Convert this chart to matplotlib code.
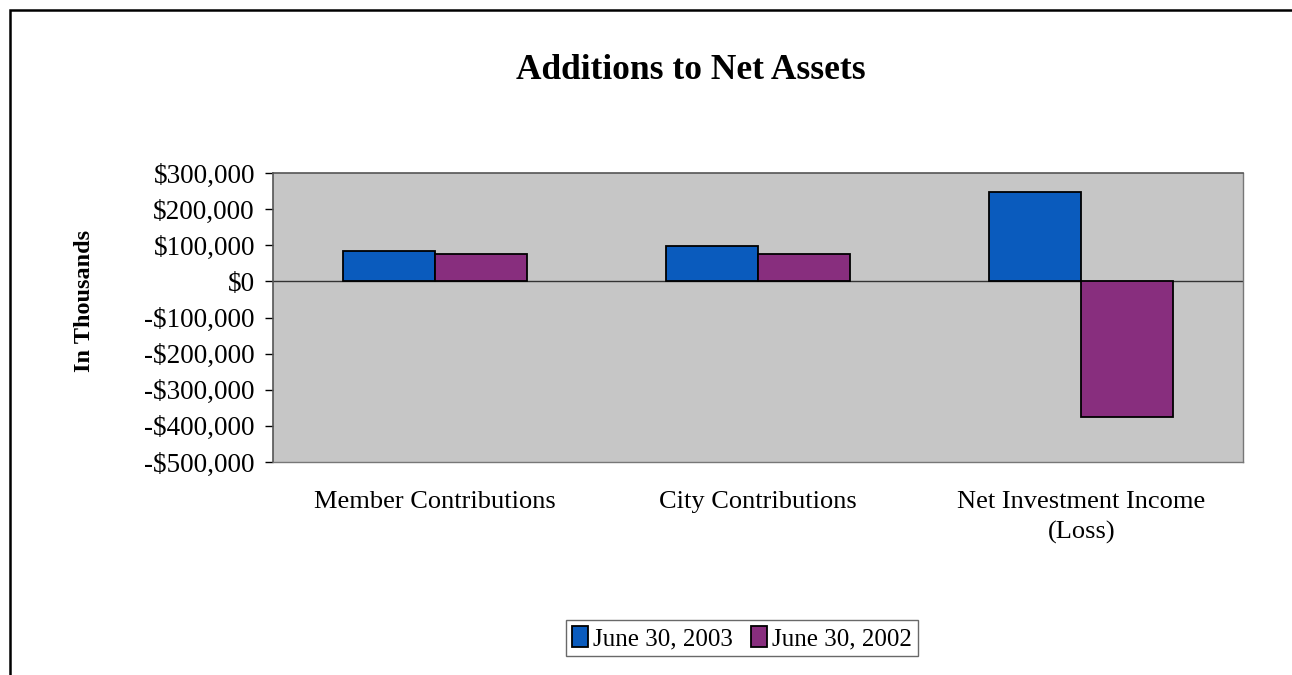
import numpy as np
import matplotlib.pyplot as plt
from matplotlib.patches import Rectangle
from matplotlib.ticker import FuncFormatter

# values in thousands of dollars
categories = ['Member Contributions', 'City Contributions', 'Net Investment Income\n(Loss)']
series_names = ['June 30, 2003', 'June 30, 2002']
fy2003 = [85000, 98000, 248000]
fy2002 = [77000, 76000, -375000]
yticks = [300000, 200000, 100000, 0, -100000, -200000, -300000, -400000, -500000]

colors = ['#0a5bbd', '#882e7e']

plt.rcParams['font.family'] = ['Liberation Serif', 'DejaVu Serif']

fig = plt.figure(figsize=(12.92, 6.75), dpi=100)
ax = fig.add_axes([273 / 1292, 1 - 462 / 675, 970 / 1292, 289 / 675])

x = np.arange(len(categories))
w = 0.285
for i, (vals, name) in enumerate(zip([fy2003, fy2002], series_names)):
    ax.bar(x + (i - 0.5) * w, vals, width=w, color=colors[i], edgecolor='black',
           linewidth=1.3, label=name, zorder=3)

ax.axhline(0, color='#333333', lw=1.0, zorder=2)
ax.set_facecolor('#c6c6c6')
ax.set_xlim(-0.5, len(categories) - 0.5)
ax.set_ylim(-500000, 300000)
ax.set_yticks(yticks)
ax.yaxis.set_major_formatter(FuncFormatter(
    lambda v, p: f'${v:,.0f}' if v >= 0 else f'-${-v:,.0f}'))
ax.tick_params(axis='y', labelsize=19.5, length=6, width=1, pad=7)
ax.set_xticks(x)
ax.set_xticklabels(categories, fontsize=19, linespacing=1.45)
ax.tick_params(axis='x', length=0, pad=21)
for side in ['top', 'left']:
    ax.spines[side].set_color('#555555')
    ax.spines[side].set_linewidth(1.2)
for side in ['right', 'bottom']:
    ax.spines[side].set_color('#777777')
    ax.spines[side].set_linewidth(1.0)

ax.set_ylabel('In Thousands', fontsize=17.5, fontweight='bold')
ax.yaxis.set_label_coords(-0.183, 0.557)

fig.text(0.535, 0.896, 'Additions to Net Assets', ha='center', va='center',
         fontsize=25.5, fontweight='bold')

leg = fig.legend(loc='center', bbox_to_anchor=(742 / 1292, 1 - 638 / 675), ncol=2,
                 fontsize=18, frameon=True, fancybox=False, handlelength=0.65,
                 handleheight=0.9, handletextpad=0.2, columnspacing=0.7,
                 borderpad=0.25, borderaxespad=0, edgecolor='#444444')
leg.get_frame().set_linewidth(1.0)

# outer chart frame
fig.patches.append(Rectangle((10 / 1292, -0.05), 1.2, 1 - 10 / 675 + 0.05,
                             transform=fig.transFigure, fill=False,
                             edgecolor='black', linewidth=1.8))

fig.savefig('out.png', dpi=100, facecolor='white')
